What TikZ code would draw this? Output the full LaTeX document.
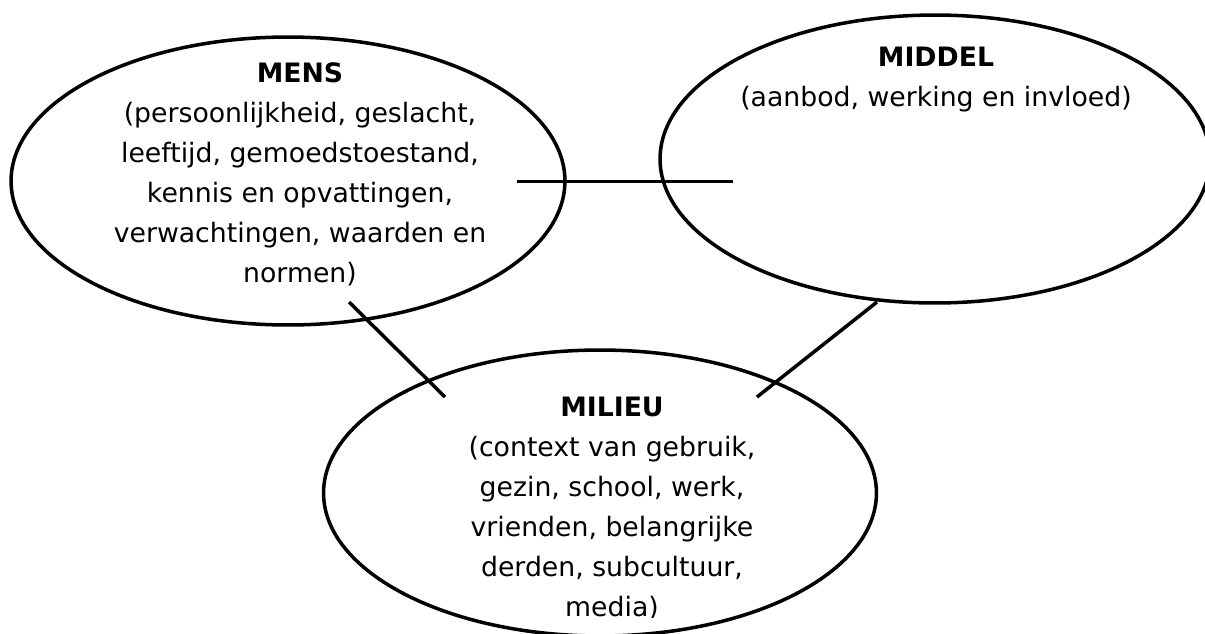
\documentclass[tikz,border=0pt]{standalone}
\usepackage{fontspec}
\setmainfont{DejaVu Sans}
\usetikzlibrary{shapes.geometric}

\begin{document}
\begin{tikzpicture}[x=0.02cm, y=-0.02cm,
    bubble/.style={draw, ellipse, line width=2pt, inner sep=0pt},
    info/.style={align=center, inner sep=0pt, anchor=north,
      font=\fontsize{15.2}{22.76}\selectfont},
    link/.style={line width=2pt}]
  \useasboundingbox (0,0) rectangle (1205,633);
  % the three ellipses
  \node [bubble, minimum width=11.08cm, minimum height=5.76cm] (mens) at (288,181) {};
  \node [bubble, minimum width=11cm, minimum height=5.76cm] (middel) at (935,159) {};
  \node [bubble, minimum width=11.06cm, minimum height=5.72cm] (milieu) at (600,493) {};
  % texts
  \node [info] (mens text) at (300,62) {\textbf{MENS}\\(persoonlijkheid, geslacht,\\leeftijd, gemoedstoestand,\\kennis en opvattingen,\\verwachtingen, waarden en\\normen)};
  \node [info] (middel text) at (936,47) {\textbf{MIDDEL}\\(aanbod, werking en invloed)};
  \begin{scope}
    \clip (300,350) rectangle (900,617);
    \node [info] (milieu text) at (612,397) {\textbf{MILIEU}\\(context van gebruik,\\gezin, school, werk,\\vrienden, belangrijke\\derden, subcultuur,\\media)};
  \end{scope}
  % connectors
  \coordinate (mens r) at (517,181.5);
  \coordinate (middel l) at (733,181.5);
  \coordinate (mens b) at (349,302);
  \coordinate (milieu l) at (445,397);
  \coordinate (middel b) at (877,302);
  \coordinate (milieu r) at (757,397);
  \draw [link] (mens r) -- (middel l);
  \draw [link] (mens b) -- (milieu l);
  \draw [link] (middel b) -- (milieu r);
\end{tikzpicture}
\end{document}
